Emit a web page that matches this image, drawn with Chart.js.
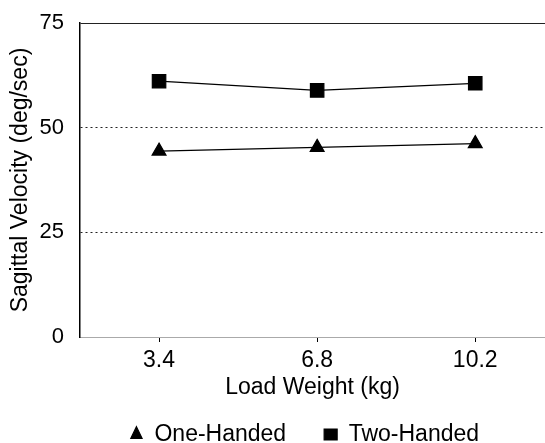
<!DOCTYPE html>
<html lang="en">
<head>
<meta charset="UTF-8">
<title>Sagittal Velocity vs Load Weight</title>
<script src="https://cdn.jsdelivr.net/npm/chart.js@4.4.0/dist/chart.umd.min.js"></script>
<style>
    html, body { margin: 0; padding: 0; background: #fff; overflow: hidden; }
    #wrap { width: 545px; height: 443px; }
</style>
</head>
<body>
<div id="wrap"><canvas id="chart" width="545" height="443"></canvas></div>
<script>
// Data
const loadWeights = [3.4, 6.8, 10.2];
const loadLabels = ['3.4', '6.8', '10.2'];
const oneHanded = [44.4, 45.3, 46.2];
const twoHanded = [61.1, 58.9, 60.6];
const yTicks = [0, 25, 50, 75];

const FONT = "'Liberation Sans', Arial, sans-serif";

function points(vals) {
    return loadWeights.map((x, i) => ({ x: x, y: vals[i] }));
}

// nudge the legend right so it sits where the original did
const legendShift = {
    id: 'legendShift',
    afterLayout(chart) {
        const lg = chart.legend;
        if (lg) { lg.left += 32; lg.right += 32; }
    }
};

new Chart(document.getElementById('chart'), {
    type: 'scatter',
    data: {
        datasets: [{
            label: 'One-Handed',
            data: points(oneHanded),
            showLine: true,
            borderColor: '#000',
            backgroundColor: '#000',
            borderWidth: 1.2,
            pointStyle: 'triangle',
            pointRadius: 8,
            pointHoverRadius: 8
        }, {
            label: 'Two-Handed',
            data: points(twoHanded),
            showLine: true,
            borderColor: '#000',
            backgroundColor: '#000',
            borderWidth: 1.2,
            pointStyle: 'rect',
            pointRadius: 9.5,
            pointHoverRadius: 9.5
        }]
    },
    options: {
        responsive: false,
        animation: false,
        layout: { autoPadding: false, padding: { top: 23, right: 0, left: 0, bottom: -13 } },
        plugins: {
            tooltip: { enabled: false },
            legend: {
                position: 'bottom',
                labels: {
                    usePointStyle: true,
                    pointStyleWidth: 13,
                    boxHeight: 11,
                    color: '#000',
                    padding: 38,
                    font: { family: FONT, size: 23 }
                }
            }
        },
        scales: {
            x: {
                type: 'linear',
                min: 1.7,
                max: 11.7,
                afterBuildTicks: s => { s.ticks = loadWeights.map(v => ({ value: v })); },
                afterFit: s => { s.height = 48; },
                ticks: {
                    color: '#000',
                    padding: 5,
                    font: { family: FONT, size: 23 },
                    callback: (v) => loadLabels[loadWeights.indexOf(v)]
                },
                grid: { drawOnChartArea: false, drawTicks: true, tickLength: 5, color: '#000', lineWidth: 1 },
                border: { display: true, color: '#aaa', width: 1, dash: [6, 4] },
                title: {
                    display: true,
                    text: 'Load Weight (kg)',
                    color: '#000',
                    padding: { top: 0, bottom: -16 },
                    font: { family: FONT, size: 23 }
                }
            },
            y: {
                min: 0,
                max: 75,
                afterBuildTicks: s => { s.ticks = yTicks.map(v => ({ value: v })); },
                afterFit: s => { s.width = 80; },
                ticks: {
                    color: '#000',
                    padding: 3,
                    font: { family: FONT, size: 22 }
                },
                grid: {
                    drawTicks: true,
                    tickLength: 13,
                    tickColor: 'rgba(0,0,0,0)',
                    lineWidth: 1,
                    color: ctx => ctx.tick && ctx.tick.value === 0 ? 'rgba(0,0,0,0)' : '#222'
                },
                border: {
                    display: true,
                    color: '#000',
                    width: 1.5,
                    dash: ctx => (ctx.tick && (ctx.tick.value === 25 || ctx.tick.value === 50)) ? [2, 3] : []
                },
                title: {
                    display: true,
                    text: 'Sagittal Velocity (deg/sec)',
                    color: '#000',
                    padding: { top: 7, bottom: 0 },
                    font: { family: FONT, size: 23 }
                }
            }
        }
    },
    plugins: [legendShift]
});
</script>
</body>
</html>
